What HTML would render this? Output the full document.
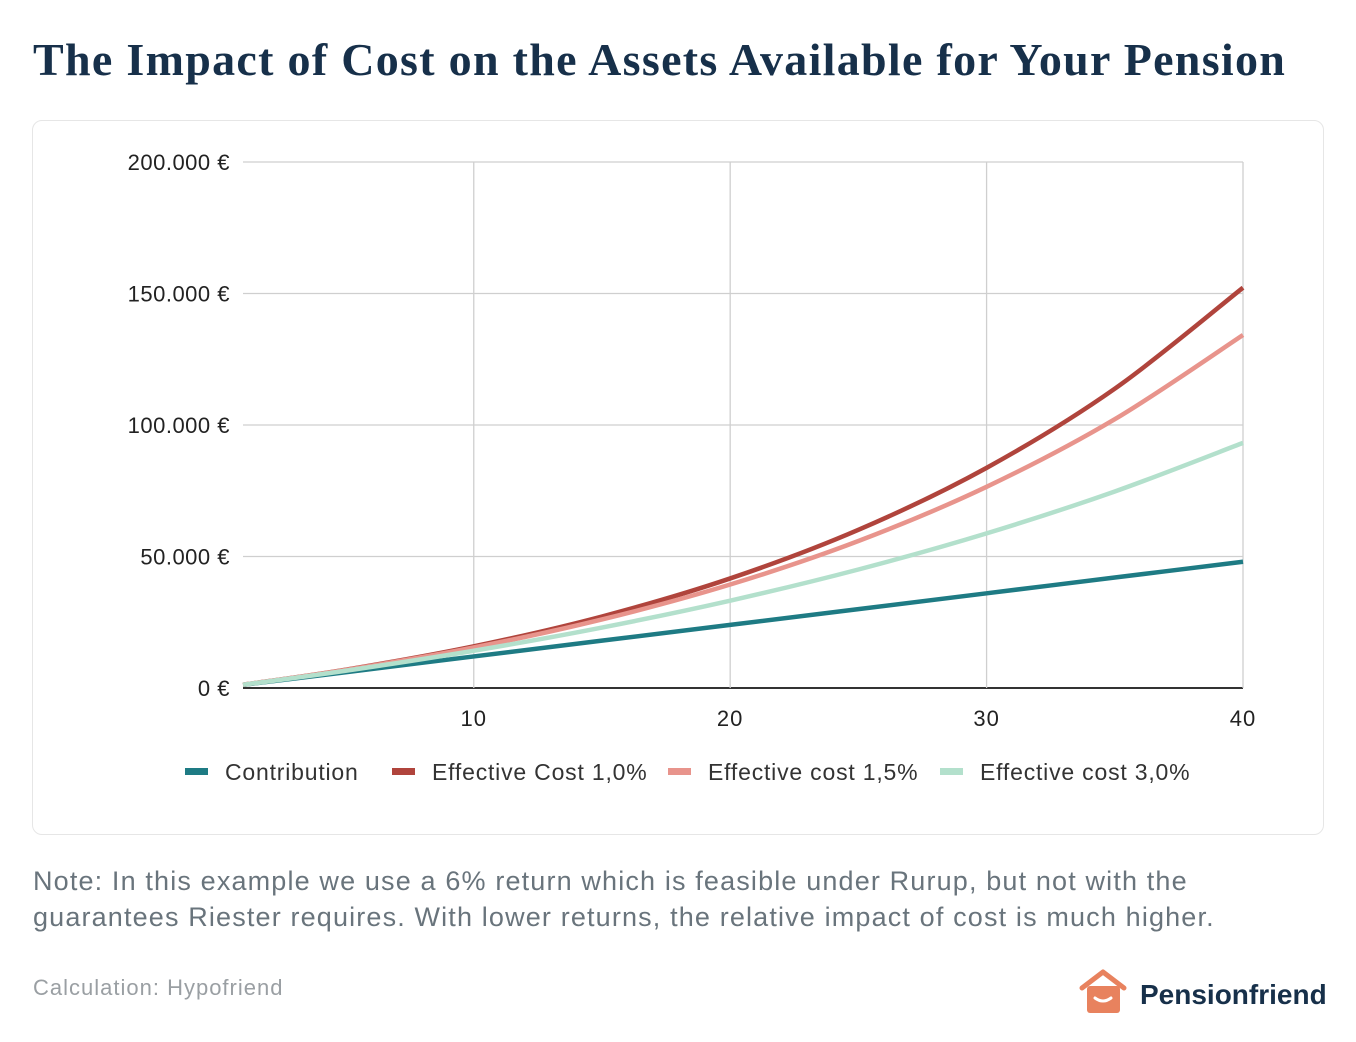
<!DOCTYPE html>
<html><head><meta charset="utf-8"><style>
body{margin:0;width:1356px;height:1042px;background:#fff;font-family:"Liberation Sans",sans-serif;overflow:hidden;position:relative}
.t{position:absolute;white-space:nowrap}
</style></head><body>
<div class="t" style="left:33px;top:33px;font-family:'Liberation Serif',serif;font-weight:bold;font-size:46px;letter-spacing:1.3px;color:#17304a">The Impact of Cost on the Assets Available for Your Pension</div>
<div style="position:absolute;left:32px;top:120px;width:1290px;height:713px;border:1px solid #e6e6e6;border-radius:10px"></div>
<svg id="c" width="1356" height="1042" style="position:absolute;left:0;top:0"></svg>
<div class="t" style="left:33px;top:863px;font-size:27px;line-height:36px;letter-spacing:1.15px;color:#69747c">Note: In this example we use a 6% return which is feasible under Rurup, but not with the<br>guarantees Riester requires. With lower returns, the relative impact of cost is much higher.</div>
<div class="t" style="left:33px;top:975px;font-size:22px;letter-spacing:1px;color:#9a9fa3">Calculation: Hypofriend</div>
<svg style="position:absolute;left:1078px;top:968px" width="50" height="48"><path d="M4 20 L25 4 L46 20" fill="none" stroke="#e8825e" stroke-width="5" stroke-linejoin="round" stroke-linecap="round"/><rect x="9" y="18" width="33" height="27" rx="3" fill="#e8825e"/><path d="M17 30 Q25 36 33 30" fill="none" stroke="#fff" stroke-width="3" stroke-linecap="round"/></svg>
<div class="t" style="left:1140px;top:979px;font-size:28px;font-weight:bold;color:#17304a">Pensionfriend</div>
<script>
const years=[1,5,10,15,20,25,30,35,40];
const contribution=[1200,6000,12000,18000,24000,30000,36000,42000,48000];
const cost10=[1260,6960,15850,27190,41660,60140,83710,113800,152210];
const cost15=[1254,6860,15410,26060,39340,55880,76500,102200,134210];
const cost30=[1236,6560,14170,22990,33210,45060,58800,74730,93190];
const yTicks=[0,50000,100000,150000,200000];
const yTickLabels=["0 €","50.000 €","100.000 €","150.000 €","200.000 €"];
const xTicks=[10,20,30,40];
const NS="http://www.w3.org/2000/svg",svg=document.getElementById('c');
const X=v=>243+(v-1)*(1000/39), Y=v=>688-v*(526/200000);
function mk(t,a,txt){const e=document.createElementNS(NS,t);for(const k in a)e.setAttribute(k,a[k]);if(txt!=null)e.textContent=txt;svg.appendChild(e);return e;}
yTicks.forEach((v,i)=>{
 const g=mk('line',{x1:243,x2:1243,y1:Y(v),y2:Y(v),stroke:v===0?'#333':'#cfcfcf','stroke-width':v===0?2:1.3});
 
 
 const t=mk('text',{x:230,y:Y(v)+8,'text-anchor':'end','font-size':22,fill:'#222','font-family':'Liberation Sans','letter-spacing':0.5},yTickLabels[i]);
 
 
});
xTicks.forEach(v=>{
 const g=mk('line',{x1:X(v),x2:X(v),y1:Y(200000),y2:Y(0),stroke:'#cfcfcf','stroke-width':1.3});
 
 
 const t=mk('text',{x:X(v),y:726,'text-anchor':'middle','font-size':22,fill:'#222','font-family':'Liberation Sans','letter-spacing':1},String(v));
 
 
});
function path(vals){const p=years.map((x,i)=>[X(x),Y(vals[i])]);let d=`M${p[0][0]},${p[0][1]}`;
 for(let i=0;i<p.length-1;i++){const p0=p[i-1]||p[i],p1=p[i],p2=p[i+1],p3=p[i+2]||p2;
 d+=` C${p1[0]+(p2[0]-p0[0])/6},${p1[1]+(p2[1]-p0[1])/6} ${p2[0]-(p3[0]-p1[0])/6},${p2[1]-(p3[1]-p1[1])/6} ${p2[0]},${p2[1]}`;}return d;}
const series=[[contribution,'#1e7b84','contribution-line'],[cost10,'#b0443c','cost-1-0-line'],[cost15,'#e8948c','cost-1-5-line'],[cost30,'#b3e0cc','cost-3-0-line']];
series.forEach(s=>{const e=mk('path',{d:path(s[0]),fill:'none',stroke:s[1],'stroke-width':4.5});
 
 });
const legend=[['Contribution','#1e7b84',185],['Effective Cost 1,0%','#b0443c',392],['Effective cost 1,5%','#e8948c',668],['Effective cost 3,0%','#b3e0cc',940]];
legend.forEach(l=>{const r=mk('rect',{x:l[2],y:768,width:23,height:7,fill:l[1]});
 
 
 const t=mk('text',{x:l[2]+40,y:780,'font-size':23,fill:'#333','font-family':'Liberation Sans','letter-spacing':0.8},l[0]);
 
 });
</script>
</body></html>
